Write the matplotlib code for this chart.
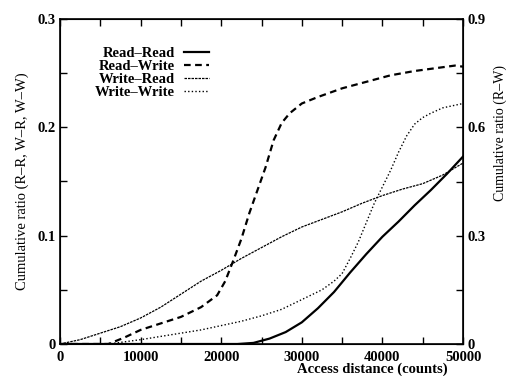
import matplotlib
matplotlib.use("Agg")
import matplotlib.pyplot as plt
from matplotlib.ticker import MultipleLocator, FuncFormatter

plt.rcParams['font.family'] = ['Liberation Serif', 'DejaVu Serif']

# Read-Read (left axis)
rr_x = [0, 22000, 24000, 26000, 28000, 30000, 32000, 34000, 36000, 38000, 40000,
        42000, 44000, 46000, 48000, 50000]
rr_y = [0, 0, 0.001, 0.005, 0.011, 0.020, 0.033, 0.048, 0.066, 0.083, 0.099,
        0.113, 0.128, 0.142, 0.157, 0.173]

# Read-Write (right axis, 0-0.9)
rw_x = [0, 6000, 8000, 10000, 12500, 15000, 17500, 19500, 20500, 21500, 22500,
        23500, 24500, 25500, 26500, 27500, 28500, 30000, 32000, 35000, 38000,
        41000, 44000, 47000, 49000, 50000]
rw_y = [0, 0, 0.018, 0.039, 0.057, 0.075, 0.102, 0.135, 0.174, 0.231, 0.291,
        0.363, 0.426, 0.489, 0.564, 0.612, 0.639, 0.666, 0.684, 0.708, 0.726,
        0.744, 0.756, 0.765, 0.771, 0.768]

# Write-Read (left axis)
wr_x = [0, 2500, 5000, 7500, 10000, 12500, 15000, 17500, 20000, 22500, 25000,
        27500, 30000, 32500, 35000, 37500, 40000, 42500, 45000, 47500, 50000]
wr_y = [0, 0.004, 0.010, 0.016, 0.024, 0.034, 0.046, 0.058, 0.068, 0.079, 0.089,
        0.099, 0.108, 0.115, 0.122, 0.130, 0.137, 0.143, 0.148, 0.156, 0.167]

# Write-Write (left axis)
ww_x = [0, 6000, 8000, 10000, 12500, 15000, 17500, 20000, 22500, 25000, 27500,
        30000, 32500, 34000, 35000, 36000, 37000, 38000, 39000, 40000, 41000,
        42000, 43000, 44000, 45000, 46000, 47500, 50000]
ww_y = [0, 0, 0.002, 0.004, 0.007, 0.010, 0.013, 0.017, 0.021, 0.026, 0.032,
        0.041, 0.050, 0.058, 0.065, 0.079, 0.094, 0.112, 0.130, 0.145, 0.160,
        0.177, 0.192, 0.203, 0.209, 0.213, 0.218, 0.222]

labels = ["Read\u2013Read", "Read\u2013Write", "Write\u2013Read", "Write\u2013Write"]

fig = plt.figure(figsize=(5.07, 3.76), dpi=100)
ax = fig.add_axes([60/507, 32/376, 403/507, 325/376])
ax2 = ax.twinx()

l1, = ax.plot(rr_x, rr_y, color='black', lw=1.6, ls='-')
l2, = ax2.plot(rw_x, rw_y, color='black', lw=1.6, ls=(0, (3, 2)))
l3, = ax.plot(wr_x, wr_y, color='black', lw=0.9, ls=(0, (2, 0.8)))
l4, = ax.plot(ww_x, ww_y, color='black', lw=1.0, ls=(0, (1, 1.6)))

ax.set_xlim(0, 50000)
ax.set_ylim(0, 0.3)
ax2.set_ylim(0, 0.9)

ax.xaxis.set_major_locator(MultipleLocator(10000))
ax.xaxis.set_minor_locator(MultipleLocator(5000))
ax.yaxis.set_major_locator(MultipleLocator(0.1))
ax.yaxis.set_minor_locator(MultipleLocator(0.05))
ax2.yaxis.set_major_locator(MultipleLocator(0.3))
ax2.yaxis.set_minor_locator(MultipleLocator(0.15))

fmt = FuncFormatter(lambda v, p: '0' if abs(v) < 1e-9 else ('%g' % v))
ax.yaxis.set_major_formatter(fmt)
ax2.yaxis.set_major_formatter(fmt)

for a in (ax, ax2):
    a.tick_params(which='both', direction='in', length=5, width=1.0,
                  labelsize=10.5, pad=3)
ax.tick_params(which='both', top=True, right=False)
ax.tick_params(axis='x', pad=5)
for t in ax.get_xticklabels() + ax.get_yticklabels() + ax2.get_yticklabels():
    t.set_fontweight('bold')

for s in ax.spines.values():
    s.set_linewidth(1.2)

ax.set_ylabel("Cumulative ratio (R\u2013R, W\u2013R, W\u2013W)", fontsize=10.5, labelpad=6)
fig.text(372/507, 0.0, "Access distance (counts)", fontsize=10.5,
         fontweight='bold', ha='center', va='bottom')
fig.text(494/507, 1 - 133/376, "Cumulative ratio (R\u2013W)", fontsize=10,
         rotation=90, ha='left', va='center')

leg = ax.legend([l1, l2, l3, l4], labels, loc='upper left',
                bbox_to_anchor=(0.055, 0.955), frameon=False, markerfirst=False,
                prop={'weight': 'bold', 'size': 10.5}, handlelength=1.7,
                labelspacing=-0.02, handletextpad=0.6)

fig.savefig("out.png", dpi=100)
